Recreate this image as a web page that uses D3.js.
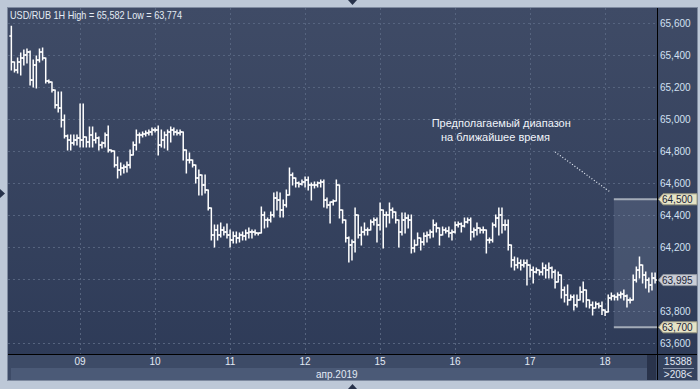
<!DOCTYPE html>
<html>
<head>
<meta charset="utf-8">
<script src="https://cdnjs.cloudflare.com/ajax/libs/d3/7.8.5/d3.min.js"></script>
<style>
html, body { margin: 0; padding: 0; background: #bdc8d7; }
svg { display: block; font-family: "Liberation Sans", Arial, sans-serif; }
</style>
</head>
<body>
<svg id="chart"></svg>
<script>
// USD/RUB, 1H bars, 8-18 Apr 2019
var symbol = "USD/RUB 1H";
var dayLabels = ["09", "10", "11", "12", "15", "16", "17", "18"];
var dayStart = [22, 46, 70, 94, 118, 142, 166, 190];   // bar index of 00:00
var monthLabel = "апр.2019";
var yTicks = [63.6, 63.8, 64.0, 64.2, 64.4, 64.6, 64.8, 65.0, 65.2, 65.4, 65.6];

var opens = [
    65.521, 65.358, 65.308, 65.358, 65.383, 65.402, 65.421, 65.246, 65.339, 65.371, 65.421, 65.383, 65.239, 65.233, 65.183, 65.089, 65.071, 64.996, 64.896, 64.871, 64.852, 64.871,
    64.883, 64.871, 64.889, 64.858, 64.902, 64.871, 64.883, 64.839, 64.852, 64.902, 64.808, 64.802, 64.714, 64.683, 64.696, 64.702, 64.714, 64.777, 64.839, 64.902, 64.902, 64.908, 64.914, 64.921,
    64.933, 64.933, 64.839, 64.871, 64.902, 64.921, 64.933, 64.921, 64.914, 64.921, 64.808, 64.746, 64.746, 64.714, 64.633, 64.652, 64.589, 64.558, 64.446, 64.277, 64.308, 64.277, 64.308, 64.296,
    64.277, 64.246, 64.271, 64.258, 64.277, 64.271, 64.289, 64.296, 64.296, 64.289, 64.289, 64.402, 64.371, 64.371, 64.402, 64.508, 64.496, 64.433, 64.464, 64.527, 64.652, 64.633, 64.602, 64.596,
    64.608, 64.621, 64.589, 64.589, 64.589, 64.602, 64.608, 64.496, 64.464, 64.483, 64.489, 64.589, 64.433, 64.371, 64.258, 64.214, 64.233, 64.402, 64.277, 64.296, 64.308, 64.308, 64.358, 64.371,
    64.339, 64.433, 64.402, 64.402, 64.433, 64.421, 64.371, 64.296, 64.371, 64.383, 64.371, 64.196, 64.214, 64.258, 64.233, 64.271, 64.277, 64.296, 64.339, 64.321, 64.277, 64.308, 64.302, 64.289,
    64.296, 64.339, 64.346, 64.333, 64.358, 64.371, 64.296, 64.308, 64.321, 64.308, 64.308, 64.246, 64.246, 64.339, 64.383, 64.402, 64.339, 64.339, 64.214, 64.121, 64.089, 64.102, 64.089, 64.102,
    64.089, 64.058, 64.046, 64.058, 64.046, 64.071, 64.058, 64.071, 64.046, 63.983, 64.027, 63.933, 63.902, 63.871, 63.889, 63.839, 63.871, 63.921, 63.933, 63.871, 63.839, 63.821, 63.846, 63.833,
    63.808, 63.796, 63.883, 63.896, 63.889, 63.902, 63.908, 63.896, 63.871, 63.871, 63.996, 64.058, 64.089, 64.027, 63.996, 63.964, 64.008
];
var highs = [
    65.582, 65.358, 65.383, 65.414, 65.433, 65.439, 65.427, 65.371, 65.396, 65.439, 65.446, 65.383, 65.246, 65.233, 65.183, 65.171, 65.171, 65.027, 64.902, 64.902, 64.902, 64.902,
    65.096, 65.096, 64.889, 64.952, 64.952, 64.914, 64.889, 64.858, 64.914, 64.958, 64.808, 64.802, 64.764, 64.727, 64.714, 64.733, 64.808, 64.858, 64.933, 64.914, 64.921, 64.927, 64.933, 64.946,
    64.946, 64.958, 64.933, 64.921, 64.933, 64.952, 64.946, 64.933, 64.933, 64.921, 64.808, 64.789, 64.746, 64.714, 64.683, 64.652, 64.652, 64.558, 64.446, 64.339, 64.339, 64.352, 64.327, 64.346,
    64.308, 64.296, 64.296, 64.289, 64.296, 64.308, 64.321, 64.308, 64.308, 64.289, 64.452, 64.421, 64.383, 64.421, 64.539, 64.546, 64.539, 64.496, 64.558, 64.696, 64.664, 64.633, 64.608, 64.621,
    64.639, 64.639, 64.602, 64.608, 64.608, 64.621, 64.621, 64.508, 64.483, 64.496, 64.621, 64.589, 64.433, 64.371, 64.264, 64.246, 64.446, 64.402, 64.327, 64.352, 64.321, 64.371, 64.383, 64.383,
    64.477, 64.433, 64.421, 64.477, 64.446, 64.421, 64.371, 64.414, 64.414, 64.402, 64.402, 64.246, 64.289, 64.258, 64.289, 64.296, 64.308, 64.371, 64.352, 64.321, 64.327, 64.321, 64.327, 64.308,
    64.358, 64.358, 64.352, 64.383, 64.383, 64.383, 64.321, 64.352, 64.321, 64.327, 64.308, 64.258, 64.352, 64.402, 64.446, 64.446, 64.371, 64.371, 64.214, 64.139, 64.133, 64.121, 64.121, 64.121,
    64.089, 64.077, 64.071, 64.058, 64.102, 64.089, 64.102, 64.077, 64.058, 64.046, 64.027, 63.952, 63.964, 63.902, 63.902, 63.902, 63.952, 63.983, 63.933, 63.871, 63.858, 63.858, 63.852, 63.858,
    63.808, 63.902, 63.914, 63.902, 63.914, 63.921, 63.933, 63.902, 63.883, 64.027, 64.077, 64.139, 64.089, 64.046, 64.008, 64.039, 64.039
];
var lows = [
    65.308, 65.296, 65.289, 65.277, 65.339, 65.352, 65.214, 65.202, 65.196, 65.358, 65.371, 65.227, 65.227, 65.171, 65.071, 65.046, 64.952, 64.883, 64.808, 64.808, 64.839, 64.839,
    64.827, 64.827, 64.827, 64.827, 64.827, 64.852, 64.808, 64.821, 64.827, 64.796, 64.796, 64.702, 64.633, 64.652, 64.664, 64.671, 64.696, 64.777, 64.808, 64.852, 64.889, 64.896, 64.902, 64.902,
    64.921, 64.777, 64.827, 64.821, 64.808, 64.858, 64.902, 64.902, 64.902, 64.746, 64.664, 64.727, 64.702, 64.602, 64.527, 64.527, 64.539, 64.433, 64.246, 64.202, 64.246, 64.264, 64.277, 64.258,
    64.202, 64.227, 64.227, 64.233, 64.246, 64.246, 64.258, 64.258, 64.277, 64.277, 64.289, 64.321, 64.327, 64.358, 64.389, 64.433, 64.389, 64.389, 64.452, 64.527, 64.589, 64.577, 64.577, 64.589,
    64.577, 64.558, 64.496, 64.571, 64.577, 64.577, 64.452, 64.446, 64.352, 64.464, 64.489, 64.383, 64.352, 64.233, 64.108, 64.121, 64.171, 64.258, 64.214, 64.277, 64.277, 64.308, 64.339, 64.233,
    64.308, 64.196, 64.327, 64.352, 64.383, 64.352, 64.202, 64.277, 64.289, 64.321, 64.164, 64.171, 64.214, 64.183, 64.214, 64.233, 64.258, 64.264, 64.296, 64.214, 64.277, 64.289, 64.264, 64.246,
    64.289, 64.327, 64.296, 64.327, 64.352, 64.246, 64.264, 64.277, 64.289, 64.289, 64.164, 64.227, 64.233, 64.327, 64.277, 64.289, 64.308, 64.183, 64.077, 64.058, 64.071, 64.058, 64.077, 63.964,
    64.014, 63.977, 64.039, 64.027, 64.027, 64.008, 64.008, 64.008, 63.946, 63.983, 63.883, 63.858, 63.839, 63.871, 63.808, 63.827, 63.871, 63.858, 63.827, 63.821, 63.777, 63.821, 63.821, 63.780,
    63.774, 63.796, 63.871, 63.871, 63.871, 63.883, 63.871, 63.827, 63.852, 63.871, 63.983, 64.008, 63.977, 63.946, 63.921, 63.933, 63.977
];
var closes = [
    65.358, 65.308, 65.358, 65.383, 65.402, 65.421, 65.246, 65.339, 65.371, 65.421, 65.383, 65.239, 65.233, 65.183, 65.089, 65.071, 64.996, 64.896, 64.871, 64.852, 64.871, 64.883,
    64.871, 64.889, 64.858, 64.902, 64.871, 64.883, 64.839, 64.852, 64.902, 64.808, 64.802, 64.714, 64.683, 64.696, 64.702, 64.714, 64.777, 64.839, 64.902, 64.902, 64.908, 64.914, 64.921, 64.933,
    64.933, 64.839, 64.871, 64.902, 64.921, 64.933, 64.921, 64.914, 64.921, 64.808, 64.746, 64.746, 64.714, 64.633, 64.652, 64.589, 64.558, 64.446, 64.277, 64.308, 64.277, 64.308, 64.296, 64.277,
    64.246, 64.271, 64.258, 64.277, 64.271, 64.289, 64.296, 64.296, 64.289, 64.289, 64.402, 64.371, 64.371, 64.402, 64.508, 64.496, 64.433, 64.464, 64.527, 64.652, 64.633, 64.602, 64.596, 64.608,
    64.621, 64.589, 64.589, 64.589, 64.602, 64.608, 64.496, 64.464, 64.483, 64.489, 64.589, 64.433, 64.371, 64.258, 64.214, 64.233, 64.402, 64.277, 64.296, 64.308, 64.308, 64.358, 64.371, 64.339,
    64.433, 64.402, 64.402, 64.433, 64.421, 64.371, 64.296, 64.371, 64.383, 64.371, 64.196, 64.214, 64.258, 64.233, 64.271, 64.277, 64.296, 64.339, 64.321, 64.277, 64.308, 64.302, 64.289, 64.296,
    64.339, 64.346, 64.333, 64.358, 64.371, 64.296, 64.308, 64.321, 64.308, 64.308, 64.246, 64.246, 64.339, 64.383, 64.402, 64.339, 64.339, 64.214, 64.121, 64.089, 64.102, 64.089, 64.102, 64.089,
    64.058, 64.046, 64.058, 64.046, 64.071, 64.058, 64.071, 64.046, 63.983, 64.027, 63.933, 63.902, 63.871, 63.889, 63.839, 63.871, 63.921, 63.933, 63.871, 63.839, 63.821, 63.846, 63.833, 63.808,
    63.796, 63.883, 63.896, 63.889, 63.902, 63.908, 63.896, 63.871, 63.871, 63.996, 64.058, 64.089, 64.027, 63.996, 63.964, 64.008, 63.995
];

// forecast box
var rangeHigh = 64.5;
var rangeLow = 63.7;
var rangeFromBar = 192.8;
var noteLines = ["Предполагаемый диапазон", "на ближайшее время"];
var noteAt = [[134.5, 64.952], [137.5, 64.866]];
var pointer = [[174.0, 64.796], [191.6, 64.546]];
var totalBars = "15388";
var shownBars = ">208<";

var width = 700, height = 389;
var padL = 8, padT = 8, plotR = 657, plotB = 354, frameR = 697, frameB = 380;

var fmt = function(v) { return d3.format(".3f")(v).replace(".", ","); };

var svg = d3.select("#chart").attr("width", width).attr("height", height);
var defs = svg.append("defs");

var grad = defs.append("linearGradient").attr("id", "bg").attr("x1", 0).attr("y1", 0).attr("x2", 0).attr("y2", 1);
grad.append("stop").attr("offset", "0%").attr("stop-color", "#3f4b66");
grad.append("stop").attr("offset", "100%").attr("stop-color", "#2d3a57");

defs.append("clipPath").attr("id", "plotclip")
    .append("rect").attr("x", padL).attr("y", padT)
    .attr("width", plotR - padL).attr("height", plotB - padT);

// frame + backgrounds
svg.append("rect")
    .attr("x", padL - 0.5).attr("y", padT - 0.5)
    .attr("width", frameR - padL + 1).attr("height", frameB - padT + 1)
    .attr("fill", "url(#bg)").attr("stroke", "#7f8ba0");

svg.append("rect").attr("x", padL).attr("y", plotB)
    .attr("width", frameR - padL).attr("height", frameB - plotB)
    .attr("fill", "#3d4b67");
svg.append("rect").attr("x", 11).attr("y", 368)
    .attr("width", 636).attr("height", frameB - 368)
    .attr("fill", "#4b5a77");
svg.append("rect").attr("x", 647).attr("y", plotB + 1)
    .attr("width", 9).attr("height", frameB - plotB - 1)
    .attr("fill", "#29334b");
svg.append("rect").attr("x", plotR + 1).attr("y", plotB + 1)
    .attr("width", frameR - plotR - 1).attr("height", frameB - plotB - 1)
    .attr("fill", "#34425e");

var x = d3.scaleLinear().domain([-0.75, 206.61]).range([padL + 1, plotR]);
var y = d3.scaleLinear().domain([63.6, 65.6]).range([343.3, 23.3]);

var plot = svg.append("g").attr("clip-path", "url(#plotclip)");

// grid
plot.append("g").selectAll("line")
    .data(yTicks).enter().append("line")
    .attr("x1", padL).attr("x2", plotR)
    .attr("y1", function(d) { return Math.round(y(d)) + 0.5; })
    .attr("y2", function(d) { return Math.round(y(d)) + 0.5; })
    .attr("stroke", "#56647f").attr("stroke-dasharray", "2,3");
plot.append("g").selectAll("line")
    .data(dayStart).enter().append("line")
    .attr("x1", function(d) { return Math.round(x(d)) + 0.5; })
    .attr("x2", function(d) { return Math.round(x(d)) + 0.5; })
    .attr("y1", padT).attr("y2", plotB)
    .attr("stroke", "#56647f").attr("stroke-dasharray", "2,3");

// forecast range
var bx = x(rangeFromBar);
plot.append("rect")
    .attr("x", bx).attr("y", y(rangeHigh))
    .attr("width", plotR - bx).attr("height", y(rangeLow) - y(rangeHigh))
    .attr("fill", "#8c9bb5").attr("fill-opacity", 0.22);
plot.append("g").selectAll("line")
    .data([rangeHigh, rangeLow]).enter().append("line")
    .attr("x1", bx).attr("x2", plotR)
    .attr("y1", function(d) { return y(d); })
    .attr("y2", function(d) { return y(d); })
    .attr("stroke", "#a3abb8").attr("stroke-width", 2);

// OHLC bars
var bars = d3.range(closes.length).map(function(i) {
    return { i: i, o: opens[i], h: highs[i], l: lows[i], c: closes[i] };
});
plot.append("g").selectAll("path")
    .data(bars).enter().append("path")
    .attr("d", function(d) {
        var cx = x(d.i);
        return "M" + cx + "," + (y(d.h) - 0.5) + "V" + (y(d.l) + 0.5) +
            "M" + (cx - 2) + "," + y(d.o) + "H" + cx +
            "M" + cx + "," + y(d.c) + "H" + (cx + 2);
    })
    .attr("fill", "none").attr("stroke", "#ffffff").attr("stroke-width", 1.5);

// note + pointer
plot.append("line")
    .attr("x1", x(pointer[0][0])).attr("y1", y(pointer[0][1]))
    .attr("x2", x(pointer[1][0])).attr("y2", y(pointer[1][1]))
    .attr("stroke", "#e8eef6").attr("stroke-width", 1.2).attr("stroke-dasharray", "1,2");
plot.append("g").selectAll("text")
    .data(noteLines).enter().append("text")
    .attr("x", function(d, k) { return x(noteAt[k][0]); })
    .attr("y", function(d, k) { return y(noteAt[k][1]); })
    .attr("fill", "#f0f4fa").attr("font-size", "11px")
    .text(function(d) { return d; });

// title
svg.append("text")
    .attr("x", 10).attr("y", 19)
    .attr("fill", "#e4ebf4").attr("font-size", "10.5px")
    .attr("textLength", 172).attr("lengthAdjust", "spacingAndGlyphs")
    .text(symbol + " High = " + fmt(d3.max(highs)) + " Low = " + fmt(d3.min(lows)));

// separators
svg.append("line").attr("x1", plotR + 0.5).attr("x2", plotR + 0.5)
    .attr("y1", padT).attr("y2", frameB).attr("stroke", "#000");
svg.append("line").attr("x1", padL).attr("x2", frameR)
    .attr("y1", plotB + 0.5).attr("y2", plotB + 0.5).attr("stroke", "#000");

// right axis
var lastClose = closes[closes.length - 1];
svg.append("g").selectAll("text")
    .data(yTicks.filter(function(t) { return Math.abs(t - lastClose) > 0.06; })).enter().append("text")
    .attr("x", 660).attr("y", function(d) { return y(d) + 3.5; })
    .attr("fill", "#d2e0f2").attr("font-size", "10px")
    .text(fmt);

var tags = svg.append("g").selectAll("g")
    .data([rangeHigh, lastClose, rangeLow]).enter().append("g")
    .attr("transform", function(d) { return "translate(0," + y(d) + ")"; });
tags.append("path")
    .attr("d", "M658.5,0L663,-5.5H697V5.5H663Z")
    .attr("fill", function(d) { return d === lastClose ? "#c9cdd6" : "#e5e3c6"; })
    .attr("stroke", function(d) { return d === lastClose ? "#8e94a0" : "#9a9a84"; });
tags.append("text")
    .attr("x", 662).attr("y", 3.5)
    .attr("fill", "#1c2436").attr("font-size", "10px")
    .text(fmt);

// time axis
svg.append("g").selectAll("text")
    .data(dayStart).enter().append("text")
    .attr("x", function(d) { return x(d); }).attr("y", 365)
    .attr("text-anchor", "middle")
    .attr("fill", "#e2e9f4").attr("font-size", "10px")
    .text(function(d, k) { return dayLabels[k]; });
svg.append("text")
    .attr("x", 316).attr("y", 378)
    .attr("fill", "#e2e9f4").attr("font-size", "10px")
    .text(monthLabel);

svg.append("text").attr("x", 678).attr("y", 365).attr("text-anchor", "middle")
    .attr("fill", "#e2e9f4").attr("font-size", "10px").text(totalBars);
svg.append("line").attr("x1", 663).attr("x2", 694).attr("y1", 368.5).attr("y2", 368.5)
    .attr("stroke", "#8793aa");
svg.append("text").attr("x", 678).attr("y", 378).attr("text-anchor", "middle")
    .attr("fill", "#e2e9f4").attr("font-size", "10px").text(shownBars);

// little scroll arrows on the window edges
svg.append("path").attr("d", "M348,0H357L352.5,5Z").attr("fill", "#27324a");
svg.append("path").attr("d", "M348,389H357L352.5,384Z").attr("fill", "#27324a");
svg.append("path").attr("d", "M0,189V198L5,193.5Z").attr("fill", "#27324a");
</script>
</body>
</html>
